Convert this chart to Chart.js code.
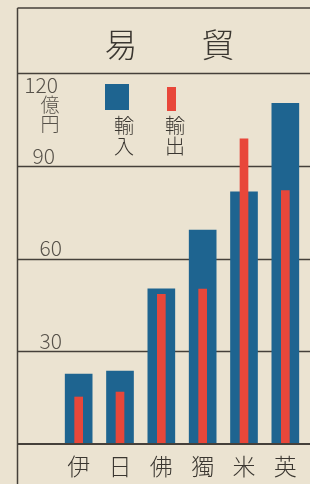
<!DOCTYPE html>
<html><head><meta charset="utf-8">
<script src="https://cdn.jsdelivr.net/npm/chart.js@4/dist/chart.umd.min.js"></script>
<style>
html,body{margin:0;padding:0;background:#ebe3d1;}
#wrap{width:310px;height:484px;position:relative;}
</style></head><body>
<div id="wrap"><canvas id="c" width="310" height="484"></canvas></div>
<script>
const categories = ['伊','日','佛','獨','米','英'];
const imports = [22.6, 23.6, 50.2, 69.2, 81.6, 110.2];
const exports_ = [15.2, 16.8, 48.4, 50.1, 98.7, 82.0];
const yTicks = [30, 60, 90, 120];
const title = ['易', '貿'];
const unitLabel = ['億', '円'];
const legendImport = ['輸', '入'];
const legendExport = ['輸', '出'];

const BLUE = '#1e6490';
const RED = '#e8473a';
const INK = '#45403a';
const FONT = '"Noto Sans CJK JP", "Noto Sans", sans-serif';

const deco = {
  id: 'deco',
  beforeDatasetsDraw(chart) {
    const ctx = chart.ctx, y = chart.scales.y, x = chart.scales.x;
    const W = chart.width;
    ctx.save();
    ctx.strokeStyle = INK;
    ctx.lineWidth = 1.5;
    // frame
    ctx.beginPath();
    ctx.moveTo(17.5, 8); ctx.lineTo(W, 8);
    ctx.moveTo(17.5, 8); ctx.lineTo(17.5, chart.height);
    ctx.stroke();
    // grid lines
    yTicks.forEach(v => {
      const py = Math.round(y.getPixelForValue(v)) + 0.5;
      ctx.beginPath(); ctx.moveTo(17, py); ctx.lineTo(W, py); ctx.stroke();
    });
    // title
    ctx.fillStyle = '#3a3630';
    ctx.font = '300 33px ' + FONT;
    ctx.textAlign = 'center'; ctx.textBaseline = 'middle';
    ctx.fillText(title[0], 121, 44);
    ctx.fillText(title[1], 218, 44);
    // y tick labels
    ctx.fillStyle = '#57524a';
    ctx.font = '300 21px ' + FONT;
    ctx.textAlign = 'right'; ctx.textBaseline = 'middle';
    yTicks.forEach(v => {
      const py = y.getPixelForValue(v);
      if (v === 120) ctx.fillText(String(v), 58, py + 12);
      else ctx.fillText(String(v), v === 90 ? 55 : 62, py - 10);
    });
    ctx.textAlign = 'center';
    ctx.font = '300 19px ' + FONT;
    ctx.fillText(unitLabel[0], 50, y.getPixelForValue(120) + 32);
    ctx.fillText(unitLabel[1], 50, y.getPixelForValue(120) + 51);
    // legend
    ctx.fillStyle = BLUE;
    ctx.fillRect(105, 84, 24, 26);
    ctx.fillStyle = RED;
    ctx.fillRect(167, 87, 9, 24);
    ctx.fillStyle = '#3a3630';
    ctx.font = '300 20px ' + FONT;
    ctx.fillText(legendImport[0], 124, 125);
    ctx.fillText(legendImport[1], 124, 146);
    ctx.fillText(legendExport[0], 175, 125);
    ctx.fillText(legendExport[1], 175, 146);
    // x labels
    ctx.font = '300 23px ' + FONT;
    categories.forEach((c, i) => {
      ctx.fillText(c, x.getPixelForValue(i), 466);
    });
    ctx.restore();
  },
  afterDatasetsDraw(chart) {
    const ctx = chart.ctx, y = chart.scales.y;
    ctx.save();
    ctx.strokeStyle = INK; ctx.lineWidth = 2;
    const py = Math.round(y.getPixelForValue(0));
    ctx.beginPath(); ctx.moveTo(17, py); ctx.lineTo(chart.width, py); ctx.stroke();
    ctx.restore();
  }
};

new Chart(document.getElementById('c'), {
  type: 'bar',
  data: {
    labels: categories,
    datasets: [
      { label: '輸入', data: imports, backgroundColor: BLUE, barThickness: 27, grouped: false, order: 2 },
      { label: '輸出', data: exports_, backgroundColor: RED, barThickness: 8, grouped: false, order: 1 }
    ]
  },
  options: {
    responsive: false,
    animation: false,
    devicePixelRatio: 1,
    layout: { padding: { left: 58, right: 4, top: 73, bottom: 40 } },
    plugins: { legend: { display: false }, tooltip: { enabled: false }, title: { display: false } },
    scales: {
      x: { display: false, offset: true },
      y: { display: false, min: 0, max: 120 }
    }
  },
  plugins: [deco]
});
</script>
</body></html>
